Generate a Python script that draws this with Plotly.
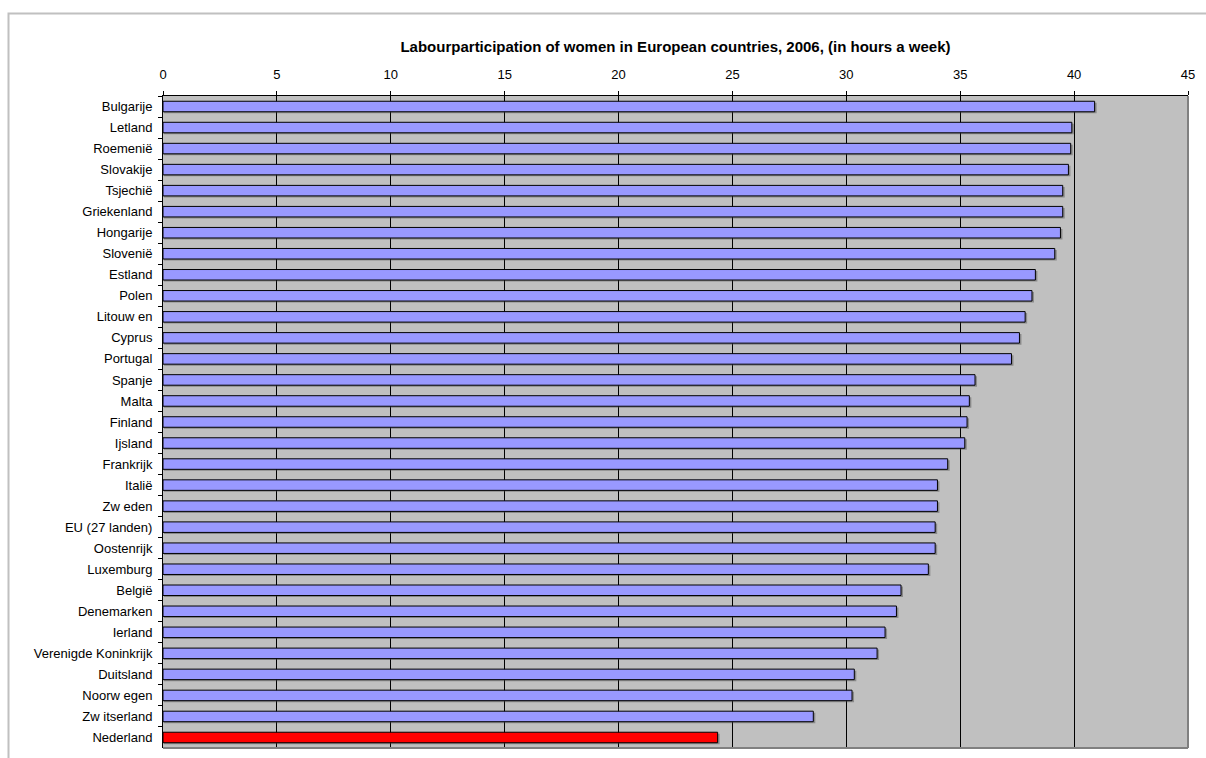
import plotly.graph_objects as go

countries = ["Bulgarije", "Letland", "Roemenië", "Slovakije", "Tsjechië", "Griekenland",
             "Hongarije", "Slovenië", "Estland", "Polen", "Litouw en", "Cyprus", "Portugal",
             "Spanje", "Malta", "Finland", "Ijsland", "Frankrijk", "Italië", "Zw eden",
             "EU (27 landen)", "Oostenrijk", "Luxemburg", "België", "Denemarken", "Ierland",
             "Verenigde Koninkrijk", "Duitsland", "Noorw egen", "Zw itserland", "Nederland"]
hours = [40.9, 39.9, 39.85, 39.75, 39.5, 39.5, 39.4, 39.15, 38.3, 38.15, 37.85, 37.6, 37.25,
         35.65, 35.4, 35.3, 35.2, 34.45, 34.0, 34.0, 33.9, 33.9, 33.6, 32.4, 32.2, 31.7,
         31.35, 30.35, 30.25, 28.55, 24.35]
highlight = "Nederland"
x_ticks = [0, 5, 10, 15, 20, 25, 30, 35, 40, 45]

colors = ["#FF0000" if c == highlight else "#9999FF" for c in countries]

W, H = 1206, 758
L, R, T, B = 163, 18, 96, 10
pw, ph = W - L - R, H - T - B
XMAX = 45
px_x = XMAX / pw              # data units per pixel (x)
px_y = 1.0 / (ph / len(countries))  # category units per pixel (y)
BW = 0.5

fig = go.Figure()
# subtle drop shadow behind bars (Excel style)
fig.add_trace(go.Bar(
    x=[h + 1 * px_x for h in hours], y=countries, orientation="h",
    base=1 * px_x, width=BW, offset=-BW / 2 + 1.5 * px_y,
    marker=dict(color="rgba(70,70,70,0.45)", line=dict(width=0)),
    hoverinfo="skip",
))
fig.add_trace(go.Bar(
    x=hours, y=countries, orientation="h",
    marker=dict(color=colors, line=dict(color="#000000", width=1)),
    width=BW, offset=-BW / 2, hoverinfo="x+y",
))

fig.update_layout(
    width=W, height=H,
    margin=dict(l=L, r=R, t=T, b=B),
    paper_bgcolor="#FFFFFF", plot_bgcolor="#C0C0C0",
    font=dict(family="Liberation Sans, Arial, sans-serif", size=13, color="#000000"),
    title=dict(text="<b>Labourparticipation of women in European countries, 2006, (in hours a week)</b>",
               x=0.5, xref="paper", xanchor="center", y=1 - 47 / H, yref="container", yanchor="middle",
               font=dict(size=15, color="#000000")),
    showlegend=False,
    barmode="overlay",
    xaxis=dict(range=[0, XMAX], side="top", tickvals=x_ticks, ticktext=[str(v) for v in x_ticks],
               showgrid=True, gridcolor="#000000", gridwidth=1,
               showline=True, linecolor="#000000", linewidth=1,
               ticks="outside", ticklen=4, tickcolor="#000000", zeroline=False,
               tickfont=dict(size=13), ticklabelstandoff=7),
    yaxis=dict(categoryorder="array", categoryarray=countries, autorange="reversed",
               showline=True, linecolor="#000000", linewidth=1,
               ticks="outside", ticklen=4, tickcolor="#000000", tickson="boundaries",
               showgrid=False, tickfont=dict(size=13), ticklabelstandoff=7),
    shapes=[
        dict(type="line", xref="paper", yref="paper", x0=0, x1=1, y0=0, y1=0,
             line=dict(color="#808080", width=2)),
        dict(type="line", xref="paper", yref="paper", x0=1, x1=1, y0=0, y1=1,
             line=dict(color="#808080", width=2)),
    ],
)

# outer chart border (light gray frame around the chart area)
fig.add_shape(type="rect", xref="paper", yref="paper",
              x0=(8.5 - L) / pw, x1=(W + 20 - L) / pw,
              y0=-(B + 20) / ph, y1=(H - B - 13.5) / ph,
              line=dict(color="#C0C0C0", width=2), layer="below")

fig.write_html("out.html")
